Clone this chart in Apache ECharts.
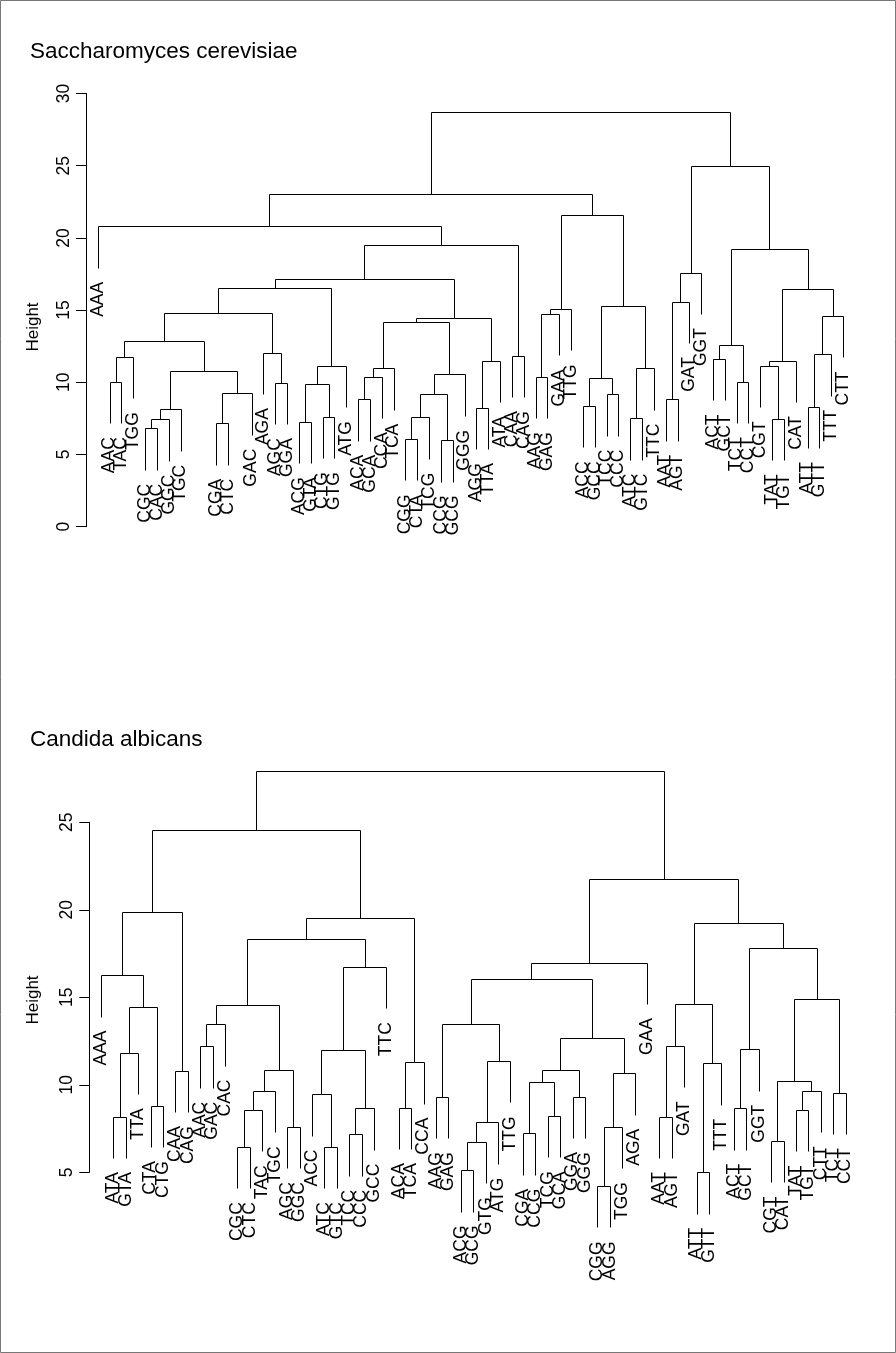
<!DOCTYPE html>
<html>
<head>
<meta charset="utf-8">
<script src="https://cdn.jsdelivr.net/npm/echarts@6/dist/echarts.min.js"></script>
<style>
  html, body { margin: 0; padding: 0; background: #fff; }
  #chart { width: 896px; height: 1353px; }
</style>
</head>
<body>
<div id="chart"></div>
<script>
// ---------- Saccharomyces cerevisiae ----------
// Leaf slots from left to right ('' = empty slot).
const yeastLeaves = [
  'AAA','AAC','TAC','TGG','CGC','CAC','GGC','TGC','','','CGA','CTC','','GAC',
  'AGA','AGC','GGA','ACG','GTA','CTG','GTG','ATG','ACA','GCA','CCA','TCA',
  'CGG','CTA','TCG','CCG','GCG','GGG','AGG','TTA','ATA','CAA','CAG','AAG',
  'GAG','GAA','TTG','ACC','GCC','TCC','CCC','ATC','GTC','TTC','AAT','AGT',
  'GAT','GGT','ACT','GCT','TCT','CCT','CGT','TAT','TGT','CAT','ATT','GTT',
  'TTT','CTT'
];
// Merge steps: negative = leaf slot, positive = earlier merge step.
const yeastLeft = [
  -2, 1, -5, 3, 4, -11, 6, 5, 2, -16, -15, 9, -18, -20, 13, 15, 12, -23, 18, 19,
  -27, 21, -30, 22, 24, 20, -33, 27, 26, 17, -36, 30, -1, -38, 34, 35, -42, -44, 37, -46,
  40, 39, 36, 33, -49, 45, 46, -53, -55, 48, -58, -57, 52, -61, 54, 55, 53, 50, 47, 44
];
const yeastRight = [
  -3, -4, -6, -7, -8, -12, -14, 7, 8, -17, 10, 11, -19, -21, 14, -22, 16, -24, -25, -26,
  -28, -29, -31, 23, -32, 25, -34, -35, 28, 29, -37, 31, 32, -39, -40, -41, -43, -45, 38, -47,
  -48, 41, 42, 43, -50, -51, -52, -54, -56, 49, -59, 51, -60, -62, -63, -64, 56, 57, 58, 59
];
const yeastHeight = [
  10.04, 11.77, 6.81, 7.44, 8.13, 7.16, 9.24, 10.80, 12.86, 9.97, 12.05, 14.78, 7.27, 7.62, 9.88, 11.15, 16.51, 8.82, 10.39, 10.97,
  6.07, 7.58, 6.00, 9.17, 10.55, 14.20, 8.24, 11.50, 14.47, 17.12, 11.84, 19.53, 20.80, 10.39, 14.73, 15.08, 8.36, 9.17, 10.32, 7.51,
  10.97, 15.31, 21.56, 23.05, 8.82, 15.58, 17.59, 11.61, 10.04, 12.60, 7.46, 11.13, 11.50, 8.31, 11.94, 14.59, 16.46, 19.21, 25.00, 28.74
];
const yeastHang = 2.87;

// ---------- Candida albicans ----------
const candidaLeaves = [
  'AAA','ATA','GTA','TTA','CTA','CTG','CAA','CAG','AAC','GAC','CAC','CGC','CTC',
  'TAC','TGC','AGC','GGC','ACC','ATC','GTC','TCC','CCC','GCC','TTC','ACA','TCA',
  'CCA','AAG','GAG','ACG','GCG','GTG','ATG','TTG','CGA','CCG','TCG','GCA','GGA',
  'GGG','CGG','AGG','TGG','AGA','GAA','AAT','AGT','GAT','ATT','GTT','TTT','ACT',
  'GCT','GGT','CGT','CAT','TAT','TGT','CTT','TCT','CCT'
];
const candidaLeft = [
  -2, 1, -5, 2, -1, -7, 5, -9, 8, -12, 10, 11, -16, 12, 9, -19, -18, -21, 18, 17,
  20, 15, -25, 23, 22, 7, -28, -30, 28, 29, 30, 27, -35, -37, 33, -39, 35, -41, 38, 39,
  37, 32, 42, -46, 44, -49, 46, 45, -52, 49, -55, -57, 52, 51, -60, 54, 50, 48, 43, 26
];
const candidaRight = [
  -3, -4, -6, 3, 4, -8, 6, -10, -11, -13, -14, -15, -17, 13, 14, -20, 16, -22, -23, 19,
  -24, 21, -26, -27, 24, 25, -29, -31, -32, -33, -34, 31, -36, -38, 34, -40, 36, -42, -43, -44,
  40, 41, -45, -47, -48, -50, -51, 47, -53, -54, -56, -58, -59, 53, -61, 55, 56, 57, 58, 59
];
const candidaHeight = [
  8.18, 11.83, 8.81, 14.43, 16.27, 10.81, 19.86, 12.20, 13.47, 6.46, 8.56, 9.65, 7.61, 10.85, 14.54, 6.46, 9.47, 7.17, 8.66, 11.99,
  16.75, 18.33, 8.69, 11.29, 19.51, 24.56, 9.32, 5.13, 6.75, 7.86, 11.36, 13.47, 7.23, 8.23, 10.14, 9.32, 10.85, 4.22, 7.61, 10.66,
  12.70, 16.03, 16.98, 8.18, 12.22, 5.00, 11.23, 14.60, 8.66, 12.03, 6.79, 8.56, 9.66, 10.23, 9.55, 14.89, 17.83, 19.26, 21.74, 27.95
];
const candidaHang = 2.37;

// Turn a merge table into vertical/horizontal segments and leaf label anchors (data units).
function buildTree(leaves, left, right, height, hang) {
  const nodes = [];
  const segs = [];
  const labels = [];
  function branch(ref, h) {
    if (ref < 0) {
      const slot = -ref;
      const end = h - hang;
      segs.push([slot, h, slot, end]);
      labels.push([slot, end, leaves[slot - 1]]);
      return slot;
    }
    const n = nodes[ref - 1];
    segs.push([n.x, h, n.x, n.h]);
    return n.x;
  }
  for (let i = 0; i < height.length; i++) {
    const h = height[i];
    const xa = branch(left[i], h);
    const xb = branch(right[i], h);
    segs.push([xa, h, xb, h]);
    nodes.push({ x: (xa + xb) / 2, h: h });
  }
  return { segs: segs, labels: labels };
}

const yeast = buildTree(yeastLeaves, yeastLeft, yeastRight, yeastHeight, yeastHang);
const candida = buildTree(candidaLeaves, candidaLeft, candidaRight, candidaHeight, candidaHang);

const FONT = '"Liberation Sans", Arial, Helvetica, sans-serif';
const snap = v => Math.round(v) + 0.5;

function segmentSeries(idx, segs) {
  return {
    type: 'custom',
    xAxisIndex: idx, yAxisIndex: idx,
    clip: false,
    silent: true,
    animation: false,
    data: segs,
    encode: { x: [0, 2], y: [1, 3] },
    renderItem: function (params, api) {
      const a = api.coord([api.value(0), api.value(1)]);
      const b = api.coord([api.value(2), api.value(3)]);
      return {
        type: 'line',
        shape: { x1: snap(a[0]), y1: snap(a[1]), x2: snap(b[0]), y2: snap(b[1]) },
        style: { stroke: '#000', lineWidth: 1 }
      };
    }
  };
}

function labelSeries(idx, labels) {
  return {
    type: 'custom',
    xAxisIndex: idx, yAxisIndex: idx,
    clip: false,
    silent: true,
    animation: false,
    data: labels.map(d => [d[0], d[1]]),
    encode: { x: 0, y: 1 },
    renderItem: function (params, api) {
      const p = api.coord([api.value(0), api.value(1)]);
      return {
        type: 'text',
        x: p[0], y: p[1] + 14,
        rotation: Math.PI / 2,
        style: {
          text: labels[params.dataIndex][2],
          align: 'right', verticalAlign: 'middle',
          font: '17.5px ' + FONT, fill: '#000'
        }
      };
    }
  };
}

function valueAxis(min, max) {
  return {
    type: 'value', min: min, max: max, interval: 5,
    axisLine: { show: true, lineStyle: { color: '#000', width: 1 } },
    axisTick: { show: true, length: 10, lineStyle: { color: '#000', width: 1 } },
    axisLabel: { rotate: 90, margin: 13, fontSize: 17.5, fontFamily: FONT, color: '#000' },
    splitLine: { show: false }
  };
}

const chart = echarts.init(document.getElementById('chart'), null, { renderer: 'canvas' });
chart.setOption({
  backgroundColor: '#fff',
  animation: false,
  grid: [
    { left: 86, top: 93.5, width: 66 * 11.83, height: 433.2 },
    { left: 89.3, top: 822.3, width: (63 - 0.06) * 12.41, height: 350 }
  ],
  xAxis: [
    { type: 'value', gridIndex: 0, min: 0, max: 66, show: false },
    { type: 'value', gridIndex: 1, min: 0.06, max: 63, show: false }
  ],
  yAxis: [
    Object.assign({ gridIndex: 0 }, valueAxis(0, 30)),
    Object.assign({ gridIndex: 1 }, valueAxis(5, 25))
  ],
  graphic: [
    { type: 'rect', silent: true, shape: { x: 0.5, y: 0.5, width: 895, height: 1352 },
      style: { fill: null, stroke: '#777', lineWidth: 1 } },
    { type: 'text', x: 30, y: 40, silent: true,
      style: { text: 'Saccharomyces cerevisiae', font: '22.5px ' + FONT, fill: '#000' } },
    { type: 'text', x: 30, y: 728, silent: true,
      style: { text: 'Candida albicans', font: '22.5px ' + FONT, fill: '#000' } },
    { type: 'text', x: 33, y: 327, rotation: Math.PI / 2, silent: true,
      style: { text: 'Height', align: 'center', verticalAlign: 'middle', font: '17px ' + FONT, fill: '#000' } },
    { type: 'text', x: 33, y: 1000, rotation: Math.PI / 2, silent: true,
      style: { text: 'Height', align: 'center', verticalAlign: 'middle', font: '17px ' + FONT, fill: '#000' } }
  ],
  series: [
    segmentSeries(0, yeast.segs),
    labelSeries(0, yeast.labels),
    segmentSeries(1, candida.segs),
    labelSeries(1, candida.labels)
  ]
});
</script>
</body>
</html>
